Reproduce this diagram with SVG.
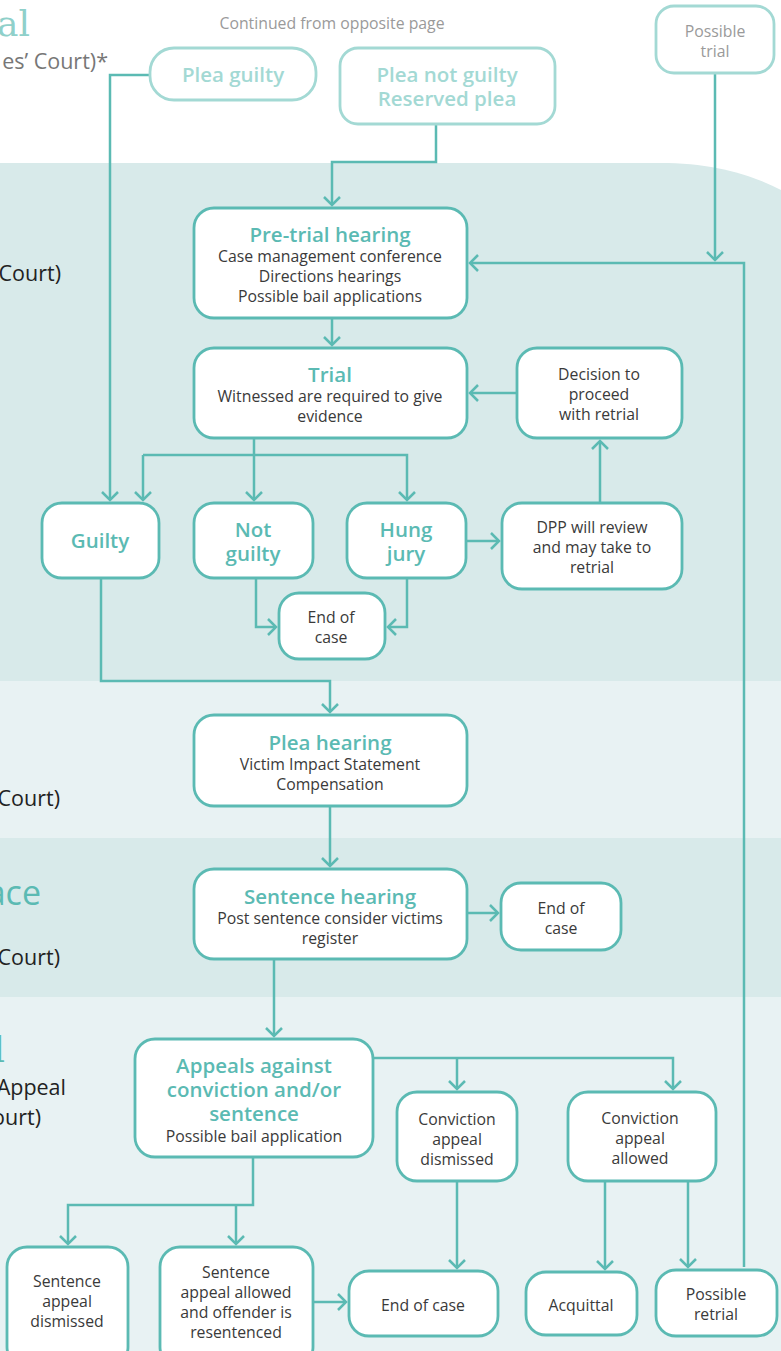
<svg xmlns="http://www.w3.org/2000/svg" width="781" height="1351" viewBox="0 0 781 1351">
<defs>
<marker id="ah" markerUnits="userSpaceOnUse" markerWidth="24" markerHeight="24" refX="10" refY="10" orient="auto" viewBox="0 0 24 24">
<path d="M2,2 L10,10 L2,18" fill="none" stroke="#5bbab3" stroke-width="2.5"/>
</marker>
</defs>
<style>
.box{fill:#fff;stroke:#5bbab3;stroke-width:2.8}
.lbox{fill:#fff;stroke:#a3d9d4;stroke-width:2.8}
.t{font-family:"Open Sans","Liberation Sans",sans-serif;font-size:15.8px;fill:#3a3a3a;text-anchor:middle}
.h{font-family:"Open Sans","Liberation Sans",sans-serif;font-size:20.5px;font-weight:600;fill:#5bbab3;text-anchor:middle}
.lh{font-family:"Open Sans","Liberation Sans",sans-serif;font-size:20.5px;font-weight:600;fill:#a3d9d4;text-anchor:middle}
.g{font-family:"Open Sans","Liberation Sans",sans-serif;font-size:15.8px;fill:#9a9a9a;text-anchor:middle}
.side{font-family:"Open Sans","Liberation Sans",sans-serif;font-size:21.5px;fill:#222;text-anchor:end}
.big{font-family:"DejaVu Serif","Liberation Serif",serif;font-size:36px;fill:#8fd0ca;text-anchor:end}
.big2{font-family:"Open Sans","Liberation Sans",sans-serif;font-size:34px;fill:#5bbab3;text-anchor:end}
.c{fill:none;stroke:#5bbab3;stroke-width:2.5}
</style>
<rect width="781" height="1351" fill="#ffffff"/>
<path d="M0,163 H660 C712,163 750,174 781,190 V681 H0 Z" fill="#d8eaea"/>
<rect x="0" y="681" width="781" height="157" fill="#e8f2f3"/>
<rect x="0" y="838" width="781" height="159" fill="#d8eaea"/>
<rect x="0" y="997" width="781" height="354" fill="#e8f2f3"/>

<g id="side-labels">
<text class="big" x="30" y="36">al</text>
<text class="side" x="108" y="69" style="fill:#777">es’ Court)*</text>
<text class="g" x="332" y="29">Continued from opposite page</text>
<text class="side" x="61" y="281">Court)</text>
<text class="side" x="60" y="806">Court)</text>
<text class="big2" x="41" y="905">ace</text>
<text class="side" x="60" y="965">Court)</text>
<text class="big" x="5" y="1062" style="fill:#5bbab3">l</text>
<text class="side" x="66" y="1095">Appeal</text>
<text class="side" x="41" y="1125">ourt)</text>
</g>

<g id="connectors">
<path class="c" d="M150,75 H110 V500" marker-end="url(#ah)"/>
<path class="c" d="M436,124 V162 H332 V205" marker-end="url(#ah)"/>
<path class="c" d="M715,73 V260" marker-end="url(#ah)"/>
<path class="c" d="M744,1267 V263 H470" marker-end="url(#ah)"/>
<path class="c" d="M332,318 V345" marker-end="url(#ah)"/>
<path class="c" d="M517,393 H470" marker-end="url(#ah)"/>
<path class="c" d="M600,503 V441" marker-end="url(#ah)"/>
<path class="c" d="M254,438 V500" marker-end="url(#ah)"/>
<path class="c" d="M143,455 H407 V500" marker-end="url(#ah)"/>
<path class="c" d="M143,455 V500" marker-end="url(#ah)"/>
<path class="c" d="M466,541 H499" marker-end="url(#ah)"/>
<path class="c" d="M256,578 V627 H276" marker-end="url(#ah)"/>
<path class="c" d="M407,578 V627 H388" marker-end="url(#ah)"/>
<path class="c" d="M101,578 V681 H330 V712" marker-end="url(#ah)"/>
<path class="c" d="M330,806 V866" marker-end="url(#ah)"/>
<path class="c" d="M467,913 H498" marker-end="url(#ah)"/>
<path class="c" d="M274,959 V1036" marker-end="url(#ah)"/>
<path class="c" d="M373,1058 H673 V1089" marker-end="url(#ah)"/>
<path class="c" d="M457,1058 V1089" marker-end="url(#ah)"/>
<path class="c" d="M253,1157 V1205 H68 V1244" marker-end="url(#ah)"/>
<path class="c" d="M236,1205 V1244" marker-end="url(#ah)"/>
<path class="c" d="M313,1302 H346" marker-end="url(#ah)"/>
<path class="c" d="M457,1181 V1268" marker-end="url(#ah)"/>
<path class="c" d="M605,1181 V1269" marker-end="url(#ah)"/>
<path class="c" d="M688,1181 V1267" marker-end="url(#ah)"/>
</g>

<g id="plea-guilty"><rect class="lbox" x="150" y="48" width="166" height="52" rx="24"/><text class="lh" x="233" y="82">Plea guilty</text></g>
<g id="plea-not-guilty"><rect class="lbox" x="340" y="48" width="215" height="76" rx="18"/><text class="lh" x="447" y="82">Plea not guilty</text><text class="lh" x="447" y="106">Reserved plea</text></g>
<g id="possible-trial"><rect class="lbox" x="656" y="6" width="118" height="67" rx="18"/><text class="g" x="715" y="37">Possible</text><text class="g" x="715" y="57">trial</text></g>

<g id="pre-trial"><rect class="box" x="194" y="208" width="273" height="110" rx="20"/><text class="h" x="330" y="242">Pre-trial hearing</text><text class="t" x="330" y="262">Case management conference</text><text class="t" x="330" y="282">Directions hearings</text><text class="t" x="330" y="302">Possible bail applications</text></g>
<g id="trial"><rect class="box" x="194" y="348" width="273" height="90" rx="20"/><text class="h" x="330" y="382">Trial</text><text class="t" x="330" y="402">Witnessed are required to give</text><text class="t" x="330" y="422">evidence</text></g>
<g id="decision"><rect class="box" x="517" y="348" width="165" height="90" rx="20"/><text class="t" x="599" y="380">Decision to</text><text class="t" x="599" y="400">proceed</text><text class="t" x="599" y="420">with retrial</text></g>
<g id="guilty"><rect class="box" x="42" y="503" width="117" height="75" rx="20"/><text class="h" x="100" y="548">Guilty</text></g>
<g id="not-guilty"><rect class="box" x="194" y="503" width="119" height="75" rx="20"/><text class="h" x="253" y="537">Not</text><text class="h" x="253" y="561">guilty</text></g>
<g id="hung-jury"><rect class="box" x="347" y="503" width="119" height="75" rx="20"/><text class="h" x="406" y="537">Hung</text><text class="h" x="406" y="561">jury</text></g>
<g id="dpp"><rect class="box" x="502" y="503" width="180" height="86" rx="20"/><text class="t" x="592" y="533">DPP will review</text><text class="t" x="592" y="553">and may take to</text><text class="t" x="592" y="573">retrial</text></g>
<g id="end-1"><rect class="box" x="279" y="593" width="106" height="66" rx="20"/><text class="t" x="331" y="623">End of</text><text class="t" x="331" y="643">case</text></g>
<g id="plea-hearing"><rect class="box" x="194" y="715" width="273" height="91" rx="20"/><text class="h" x="330" y="750">Plea hearing</text><text class="t" x="330" y="770">Victim Impact Statement</text><text class="t" x="330" y="790">Compensation</text></g>
<g id="sentence-hearing"><rect class="box" x="194" y="869" width="273" height="90" rx="20"/><text class="h" x="330" y="904">Sentence hearing</text><text class="t" x="330" y="924">Post sentence consider victims</text><text class="t" x="330" y="944">register</text></g>
<g id="end-2"><rect class="box" x="501" y="883" width="120" height="67" rx="20"/><text class="t" x="561" y="914">End of</text><text class="t" x="561" y="934">case</text></g>
<g id="appeals"><rect class="box" x="135" y="1039" width="238" height="118" rx="20"/><text class="h" x="254" y="1073">Appeals against</text><text class="h" x="254" y="1097">conviction and/or</text><text class="h" x="254" y="1121">sentence</text><text class="t" x="254" y="1142">Possible bail application</text></g>
<g id="conv-dismissed"><rect class="box" x="397" y="1092" width="120" height="89" rx="20"/><text class="t" x="457" y="1125">Conviction</text><text class="t" x="457" y="1145">appeal</text><text class="t" x="457" y="1165">dismissed</text></g>
<g id="conv-allowed"><rect class="box" x="568" y="1092" width="148" height="89" rx="20"/><text class="t" x="640" y="1124">Conviction</text><text class="t" x="640" y="1144">appeal</text><text class="t" x="640" y="1164">allowed</text></g>
<g id="sent-dismissed"><rect class="box" x="7" y="1247" width="121" height="120" rx="20"/><text class="t" x="67" y="1287">Sentence</text><text class="t" x="67" y="1307">appeal</text><text class="t" x="67" y="1327">dismissed</text></g>
<g id="sent-allowed"><rect class="box" x="160" y="1247" width="153" height="120" rx="20"/><text class="t" x="236" y="1278">Sentence</text><text class="t" x="236" y="1298">appeal allowed</text><text class="t" x="236" y="1318">and offender is</text><text class="t" x="236" y="1338">resentenced</text></g>
<g id="end-3"><rect class="box" x="349" y="1271" width="149" height="65" rx="20"/><text class="t" x="423" y="1311">End of case</text></g>
<g id="acquittal"><rect class="box" x="526" y="1272" width="111" height="63" rx="20"/><text class="t" x="581" y="1311">Acquittal</text></g>
<g id="possible-retrial"><rect class="box" x="656" y="1270" width="121" height="66" rx="20"/><text class="t" x="716" y="1300">Possible</text><text class="t" x="716" y="1320">retrial</text></g>
</svg>
